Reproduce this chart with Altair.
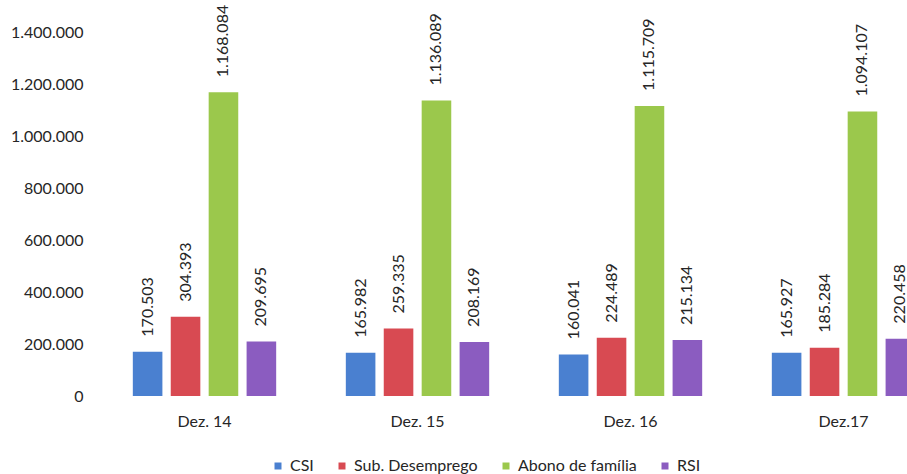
import altair as alt
import pandas as pd

periods = ["Dez. 14", "Dez. 15", "Dez. 16", "Dez.17"]
series = ["CSI", "Sub. Desemprego", "Abono de família", "RSI"]
csi = [170503, 165982, 160041, 165927]
sub_desemprego = [304393, 259335, 224489, 185284]
abono = [1168084, 1136089, 1115709, 1094107]
rsi = [209695, 208169, 215134, 220458]
colors = ["#4A80D0", "#D84A52", "#9BC84C", "#8B5CC0"]

rows = []
for name, vals in zip(series, [csi, sub_desemprego, abono, rsi]):
    for p, v in zip(periods, vals):
        rows.append({"periodo": p, "serie": name, "valor": v})
df = pd.DataFrame(rows)

FONT = "Lato"

x = alt.X("periodo:N", sort=periods, title=None,
          scale=alt.Scale(range=[0, 852], paddingInner=0.27, paddingOuter=0.135),
          axis=alt.Axis(labelAngle=0, domain=False, ticks=False, tickSize=0,
                        labelPadding=17, labelFontSize=16, labelFont=FONT,
                        labelColor="#262626", grid=False))
xo = alt.XOffset("serie:N", sort=series,
                 scale=alt.Scale(paddingInner=0.22, paddingOuter=0.16))
y = alt.Y("valor:Q", title=None,
          scale=alt.Scale(domain=[0, 1400000], nice=False),
          axis=alt.Axis(values=[0, 200000, 400000, 600000, 800000, 1000000, 1200000, 1400000],
                        format=",d", domain=False, ticks=False, tickSize=0, grid=False,
                        labelPadding=15, labelFontSize=16, labelFont=FONT,
                        labelColor="#262626"))

bars = alt.Chart(df).mark_bar().encode(
    x=x, xOffset=xo, y=y,
    color=alt.Color("serie:N", sort=series,
                    scale=alt.Scale(domain=series, range=colors),
                    legend=alt.Legend(title=None, orient="none", direction="horizontal",
                                      columns=4, legendX=172, legendY=426, padding=0,
                                      symbolType="square", symbolSize=49,
                                      symbolStrokeWidth=0, labelFontSize=16,
                                      labelFont=FONT, labelColor="#262626",
                                      labelOffset=4, columnPadding=20)),
)

labels = alt.Chart(df).mark_text(
    angle=270, align="left", baseline="middle", dx=15,
    fontSize=16, font=FONT, color="#262626"
).encode(
    x=x, xOffset=xo, y=y,
    text=alt.Text("valor:Q", format=",d"),
)

chart = alt.layer(bars, labels).properties(
    width=809, height=364,
    autosize=alt.AutoSizeParams(type="none"),
    padding={"left": 98, "top": 32, "right": 0, "bottom": 78},
).configure(
    locale=alt.Locale(number=alt.NumberLocale(decimal=",", thousands=".",
                                              grouping=[3], currency=["", " €"]))
).configure_view(stroke=None)

chart.save("out.html", embed_options={"renderer": "svg", "actions": False})
